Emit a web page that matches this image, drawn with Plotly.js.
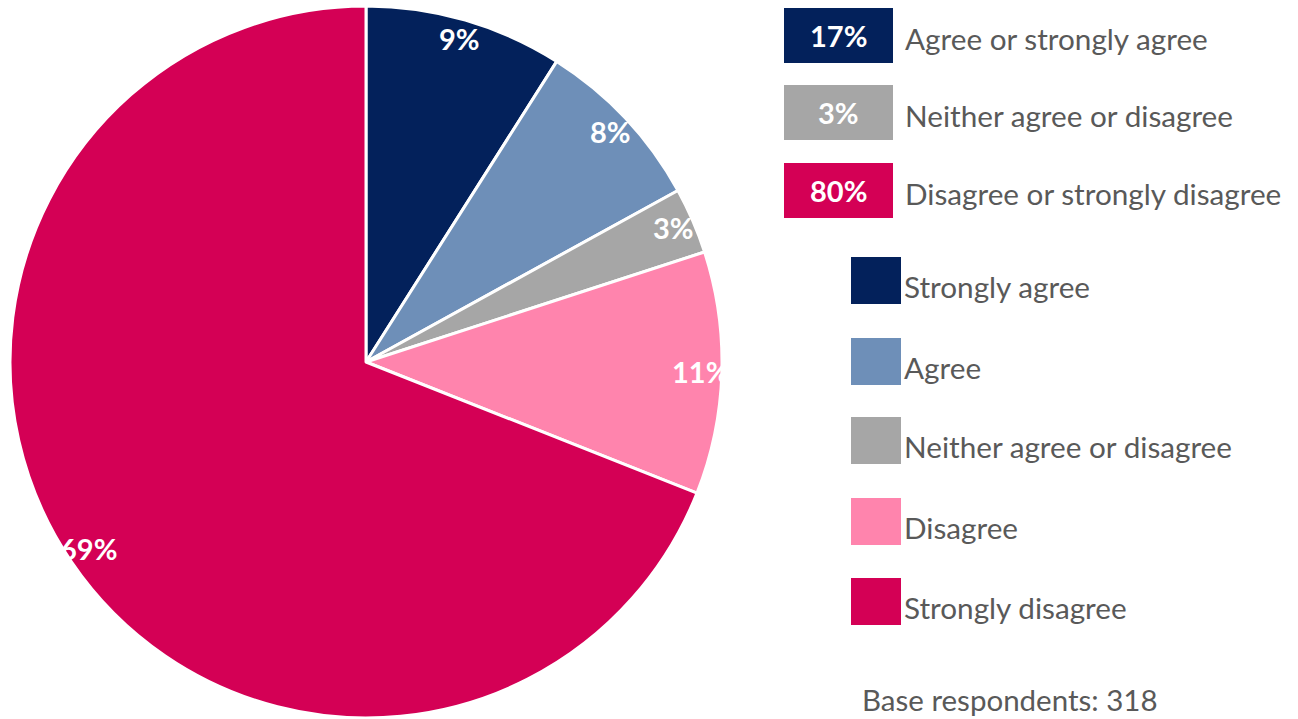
<!DOCTYPE html>
<html>
<head>
<meta charset="utf-8">
<script src="https://cdn.plot.ly/plotly-3.0.1.min.js"></script>
<style>html,body{margin:0;padding:0;background:#fff;}#chart{width:1298px;height:719px;}</style>
</head>
<body>
<div id="chart"></div>
<script>
// Data
const categories = ["Strongly agree", "Agree", "Neither agree or disagree", "Disagree", "Strongly disagree"];
const values = [9, 8, 3, 11, 69];
const colors = ["#03215B", "#6E8FB8", "#A6A6A6", "#FF84AD", "#D40055"];

const summaryLabels = ["Agree or strongly agree", "Neither agree or disagree", "Disagree or strongly disagree"];
const summaryValues = [17, 3, 80];
const summaryColors = ["#03215B", "#A6A6A6", "#D40055"];

const baseText = "Base respondents: 318";

// Geometry (pixels)
const W = 1298, H = 719;
const cx = 366, cy = 362, R = 356;
const labelR = 335;
const FONT = "Lato, 'Open Sans', sans-serif";
const TEXTCOL = "#595959";

const px = x => x / W;
const py = y => (H - y) / H;

const trace = {
  type: "pie",
  labels: categories,
  values: values,
  sort: false,
  direction: "clockwise",
  rotation: 0,
  marker: {colors: colors, line: {color: "#ffffff", width: 3}},
  textinfo: "none",
  hoverinfo: "label+percent",
  showlegend: false,
  domain: {x: [px(cx - R), px(cx + R)], y: [py(cy + R), py(cy - R)]}
};

const annotations = [];
const shapes = [];

// Slice labels positioned from the data values
const total = values.reduce((a, b) => a + b, 0);
let cum = 0;
values.forEach((v, i) => {
  const mid = (cum + v / 2) / total * 2 * Math.PI;
  cum += v;
  const x = cx + labelR * Math.sin(mid);
  const y = cy - labelR * Math.cos(mid) - 1.5;
  annotations.push({
    xref: "paper", yref: "paper", x: px(x), y: py(y),
    xanchor: "center", yanchor: "middle", showarrow: false,
    text: "<b>" + v + "%</b>",
    font: {family: FONT, size: 29, color: "#ffffff"}
  });
});

// Summary legend boxes
const sumTops = [8, 85, 163];
summaryLabels.forEach((lab, i) => {
  const t = sumTops[i], b = t + 55;
  shapes.push({type: "rect", xref: "paper", yref: "paper",
    x0: px(784), x1: px(893), y0: py(b), y1: py(t),
    fillcolor: summaryColors[i], line: {width: 0}});
  annotations.push({xref: "paper", yref: "paper", x: px(838.5), y: py((t + b) / 2),
    xanchor: "center", yanchor: "middle", showarrow: false,
    text: "<b>" + summaryValues[i] + "%</b>",
    font: {family: FONT, size: 29, color: "#ffffff"}});
  annotations.push({xref: "paper", yref: "paper", x: px(903), y: py((t + b) / 2 + 3),
    xanchor: "left", yanchor: "middle", showarrow: false,
    text: lab, font: {family: FONT, size: 29.7, color: TEXTCOL}});
});

// Category legend swatches
const legTops = [257, 338, 417, 498, 578];
categories.forEach((lab, i) => {
  const t = legTops[i], b = t + 47;
  shapes.push({type: "rect", xref: "paper", yref: "paper",
    x0: px(851), x1: px(901), y0: py(b), y1: py(t),
    fillcolor: colors[i], line: {width: 0}});
  annotations.push({xref: "paper", yref: "paper", x: px(902), y: py(t + 29),
    xanchor: "left", yanchor: "middle", showarrow: false,
    text: lab, font: {family: FONT, size: 29.7, color: TEXTCOL}});
});

annotations.push({xref: "paper", yref: "paper", x: px(860), y: py(699),
  xanchor: "left", yanchor: "middle", showarrow: false,
  text: baseText, font: {family: FONT, size: 29.5, color: TEXTCOL}});

const layout = {
  width: W, height: H,
  margin: {l: 0, r: 0, t: 0, b: 0},
  paper_bgcolor: "#ffffff",
  plot_bgcolor: "#ffffff",
  showlegend: false,
  shapes: shapes,
  annotations: annotations
};

Plotly.newPlot("chart", [trace], layout, {displayModeBar: false, staticPlot: true});
</script>
</body>
</html>
